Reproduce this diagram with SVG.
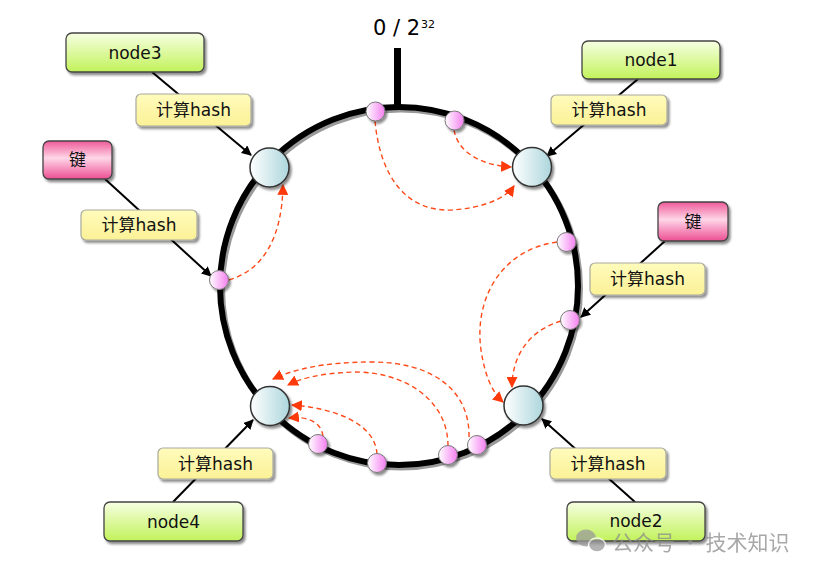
<svg xmlns="http://www.w3.org/2000/svg" width="819" height="573" viewBox="0 0 819 573">
<defs>
<linearGradient id="gGreen" x1="0" y1="0" x2="0" y2="1"><stop offset="0" stop-color="#f6ffe2"/><stop offset="1" stop-color="#c2f25a"/></linearGradient>
<linearGradient id="gYellow" x1="0" y1="0" x2="0" y2="1"><stop offset="0" stop-color="#fffbbc"/><stop offset="1" stop-color="#fbf196"/></linearGradient>
<linearGradient id="gPink" x1="0" y1="0" x2="0" y2="1"><stop offset="0" stop-color="#ee5a98"/><stop offset="0.45" stop-color="#ffd6e8"/><stop offset="1" stop-color="#ec4e92"/></linearGradient>
<linearGradient id="gNode" x1="0" y1="0" x2="1" y2="0"><stop offset="0" stop-color="#ffffff"/><stop offset="1" stop-color="#acd6dc"/></linearGradient>
<linearGradient id="gDot" x1="0" y1="0" x2="1" y2="0"><stop offset="0" stop-color="#ffffff"/><stop offset="1" stop-color="#f47ef0"/></linearGradient>
<filter id="sh" x="-20%" y="-20%" width="140%" height="160%"><feDropShadow dx="2" dy="2.5" stdDeviation="1.2" flood-color="#000" flood-opacity="0.45"/></filter>
<marker id="aBlack" viewBox="0 0 10 10" refX="9" refY="5" markerWidth="10" markerHeight="10" markerUnits="userSpaceOnUse" orient="auto"><path d="M0,0 L10,5 L0,10 z" fill="#000"/></marker>
<marker id="aRed" viewBox="0 0 10 10" refX="9" refY="5" markerWidth="11" markerHeight="11" markerUnits="userSpaceOnUse" orient="auto"><path d="M0,0 L10,5 L0,10 z" fill="#ff3a0a"/></marker>
</defs>
<style>
.t{font-family:"DejaVu Sans","Noto Sans CJK SC",sans-serif;font-size:17px;fill:#111;text-anchor:middle}
.green{fill:url(#gGreen);stroke:#444;stroke-width:1.3;filter:url(#sh)}
.yellow{fill:url(#gYellow);stroke:#a8a8a0;stroke-width:1.2;filter:url(#sh)}
.pink{fill:url(#gPink);stroke:#444;stroke-width:1.3;filter:url(#sh)}
.node{fill:url(#gNode);stroke:#333;stroke-width:1.5;filter:url(#sh)}
.dot{fill:url(#gDot);stroke:#777;stroke-width:1;filter:url(#sh)}
.blk{stroke:#000;stroke-width:2;fill:none}
.red{stroke:#ff4a1a;stroke-width:1.4;fill:none;stroke-dasharray:5,3.5}
</style>
<rect width="819" height="573" fill="#fff"/>
<!-- ring -->
<g id="ring">
<circle cx="401" cy="288.5" r="179" fill="none" stroke="#9a9a9a" stroke-width="6"/>
<circle cx="399" cy="286" r="179" fill="none" stroke="#000" stroke-width="6"/>
<rect x="394" y="48" width="7" height="61" fill="#000"/>
<text x="373" y="35" font-family="DejaVu Sans, sans-serif" font-size="21" fill="#000">0 / 2</text>
<text x="421" y="28" font-family="DejaVu Sans, sans-serif" font-size="11" fill="#000">32</text>
</g>
<!-- black connectors -->
<g id="connectors">
<line class="blk" x1="152" y1="72" x2="251" y2="155" marker-end="url(#aBlack)"/>
<line class="blk" x1="638" y1="79" x2="547" y2="156" marker-end="url(#aBlack)"/>
<line class="blk" x1="105" y1="179" x2="211" y2="276" marker-end="url(#aBlack)"/>
<line class="blk" x1="665" y1="241" x2="581" y2="317" marker-end="url(#aBlack)"/>
<line class="blk" x1="173" y1="502" x2="253" y2="420" marker-end="url(#aBlack)"/>
<line class="blk" x1="635" y1="502" x2="542" y2="419" marker-end="url(#aBlack)"/>
<path class="red" d="M375,121 C380,175 405,212 452,210 C482,208 505,199 514,186" marker-end="url(#aRed)"/>
<path class="red" d="M454,130 C458,152 480,165 511,167" marker-end="url(#aRed)"/>
<path class="red" d="M229,280 C262,270 282,240 283,185" marker-end="url(#aRed)"/>
<path class="red" d="M557,242 C500,250 474,300 481,350 C485,376 492,392 503,402" marker-end="url(#aRed)"/>
<path class="red" d="M561,321 C530,330 512,355 512,387" marker-end="url(#aRed)"/>
<path class="red" d="M323,436 C321,421 306,416 289,418" marker-end="url(#aRed)"/>
<path class="red" d="M377,454 C375,422 332,408 292,405" marker-end="url(#aRed)"/>
<path class="red" d="M448,446 C448,400 405,372 355,372 C322,373 302,378 288,385" marker-end="url(#aRed)"/>
<path class="red" d="M469,437 C470,390 432,362 372,362 C322,362 292,370 273,379" marker-end="url(#aRed)"/>
</g>
<!-- points on ring -->
<g id="points">
<circle class="dot" cx="375.5" cy="111.5" r="9.5"/>
<circle class="dot" cx="454.5" cy="120.5" r="9.5"/>
<circle class="dot" cx="566.5" cy="242" r="9.5"/>
<circle class="dot" cx="570" cy="320" r="9.5"/>
<circle class="dot" cx="219" cy="280" r="9.5"/>
<circle class="dot" cx="318" cy="444" r="9.5"/>
<circle class="dot" cx="377" cy="463" r="9.5"/>
<circle class="dot" cx="448" cy="455" r="9.5"/>
<circle class="dot" cx="477" cy="445" r="9.5"/>
</g>
<g id="ring-node3"><circle class="node" cx="269.5" cy="167.5" r="19.5"/></g>
<g id="ring-node1"><circle class="node" cx="532" cy="167" r="19.5"/></g>
<g id="ring-node4"><circle class="node" cx="270" cy="406" r="19.5"/></g>
<g id="ring-node2"><circle class="node" cx="523.5" cy="405.5" r="19.5"/></g>
<!-- boxes -->
<g id="node3"><rect class="green" x="66" y="33" width="138" height="39" rx="6"/><text class="t" x="135" y="58.5">node3</text></g>
<g id="node3-hash"><rect class="yellow" x="136" y="94" width="115" height="32" rx="5"/><text class="t" x="193.5" y="116">计算hash</text></g>
<g id="key-left"><rect class="pink" x="43" y="141" width="69" height="38" rx="6"/><text class="t" x="77.5" y="166">键</text></g>
<g id="key-left-hash"><rect class="yellow" x="81" y="210" width="116" height="30" rx="5"/><text class="t" x="139" y="231">计算hash</text></g>
<g id="node1"><rect class="green" x="582" y="41" width="138" height="38" rx="6"/><text class="t" x="651" y="66">node1</text></g>
<g id="node1-hash"><rect class="yellow" x="551" y="95" width="116" height="30" rx="5"/><text class="t" x="609" y="116">计算hash</text></g>
<g id="key-right"><rect class="pink" x="658" y="202" width="70" height="39" rx="6"/><text class="t" x="693" y="227.5">键</text></g>
<g id="key-right-hash"><rect class="yellow" x="590" y="263" width="115" height="32" rx="5"/><text class="t" x="647.5" y="285">计算hash</text></g>
<g id="node4"><rect class="green" x="104" y="502" width="139" height="39" rx="6"/><text class="t" x="173.5" y="527.5">node4</text></g>
<g id="node4-hash"><rect class="yellow" x="158" y="448" width="115" height="31" rx="5"/><text class="t" x="215.5" y="469.5">计算hash</text></g>
<g id="node2"><rect class="green" x="567" y="502" width="138" height="39" rx="6"/><text class="t" x="636" y="526.5">node2</text></g>
<g id="node2-hash"><rect class="yellow" x="550" y="448" width="116" height="31" rx="5"/><text class="t" x="608" y="469.5">计算hash</text></g>
<!-- watermark -->
<g id="watermark" opacity="0.75">
<ellipse cx="586" cy="538" rx="10" ry="8.5" fill="#9a9a9a"/>
<ellipse cx="597" cy="545" rx="8.5" ry="7" fill="#9a9a9a" stroke="#fff" stroke-width="1.5"/>
<text x="612" y="550" font-family="Noto Sans CJK SC, sans-serif" font-size="21" fill="#8c8c8c">公众号 · 技术知识</text>
</g>
</svg>
